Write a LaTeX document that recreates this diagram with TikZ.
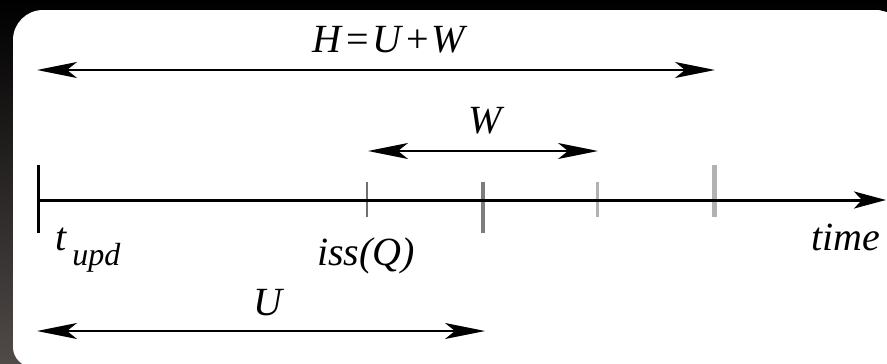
\documentclass[tikz,border=0pt]{standalone}
\usepackage{fontspec}
\setmainfont{Liberation Serif}
\usetikzlibrary{arrows.meta}
\definecolor{bgbot}{RGB}{80,74,72}
\definecolor{tickdark}{RGB}{112,112,112}
\definecolor{tickmid}{RGB}{125,125,125}
\definecolor{ticklight}{RGB}{178,178,178}
\tikzset{
  lbl/.style={inner sep=0pt, font=\fontsize{40}{48}\selectfont\itshape},
  dimarrow/.style={line width=2pt,
    {Stealth[length=40pt,width=16pt,inset=10pt]}-{Stealth[length=40pt,width=16pt,inset=10pt]}},
  axisline/.style={line width=3pt, -{Stealth[length=32pt,width=17pt,inset=8pt]}},
}
\begin{document}
\begin{tikzpicture}[x=1pt,y=-1pt]
\useasboundingbox (0,0) rectangle (887,364);
% background
\shade[top color=black, bottom color=bgbot] (0,0) rectangle (887,364);
\fill[white, rounded corners=30pt] (900,10) -- (13,10) -- (13,200)
  [rounded corners=20pt] -- (13,367) -- (900,367) -- cycle;
\fill[black] (879,10) -- (887,10) -- (887,12) -- cycle;

% coordinates
\coordinate (hL) at (37,70);   \coordinate (hR) at (715,70);
\coordinate (wL) at (368,151); \coordinate (wR) at (598,151);
\coordinate (uL) at (37,331);  \coordinate (uR) at (485,331);
\coordinate (ax0) at (38,200); \coordinate (axE) at (886,200);
\coordinate (b0t) at (38,165); \coordinate (b0b) at (38,233);
\coordinate (t1t) at (367,182); \coordinate (t1b) at (367,217);
\coordinate (t2t) at (483,182); \coordinate (t2b) at (483,233);
\coordinate (t3t) at (597,182); \coordinate (t3b) at (597,217);
\coordinate (t4t) at (714,165); \coordinate (t4b) at (714,217);

% ticks
\draw[tickdark, line width=2.5pt] (t1t) -- (t1b);
\draw[tickmid, line width=4pt] (t2t) -- (t2b);
\draw[ticklight, line width=3pt] (t3t) -- (t3b);
\draw[ticklight, line width=5pt] (t4t) -- (t4b);

% time axis
\draw[axisline] (ax0) -- (axE);
\draw[line width=3pt] (b0t) -- (b0b);

% dimension arrows
\draw[dimarrow] (hL) -- (hR);
\draw[dimarrow] (wL) -- (wR);
\draw[dimarrow] (uL) -- (uR);

% labels
\node[lbl, anchor=base] (Hlbl) at (389,52) {H\hspace{3pt}\textup{=}\hspace{3pt}U\hspace{3pt}\textup{+}\hspace{3pt}W};
\node[lbl, anchor=base] (Wlbl) at (485,133) {W};
\node[lbl, anchor=base] (Ulbl) at (268,315) {U};
\node[lbl, anchor=base] (isslbl) at (366,265) {iss(Q)};
\node[lbl, anchor=base] (timelbl) at (846,250) {time};
\node[lbl, anchor=base west] (tupdlbl) at (55,250) {t\hspace{6pt}\raisebox{-15pt}{\fontsize{32}{38}\selectfont upd}};
\end{tikzpicture}
\end{document}
